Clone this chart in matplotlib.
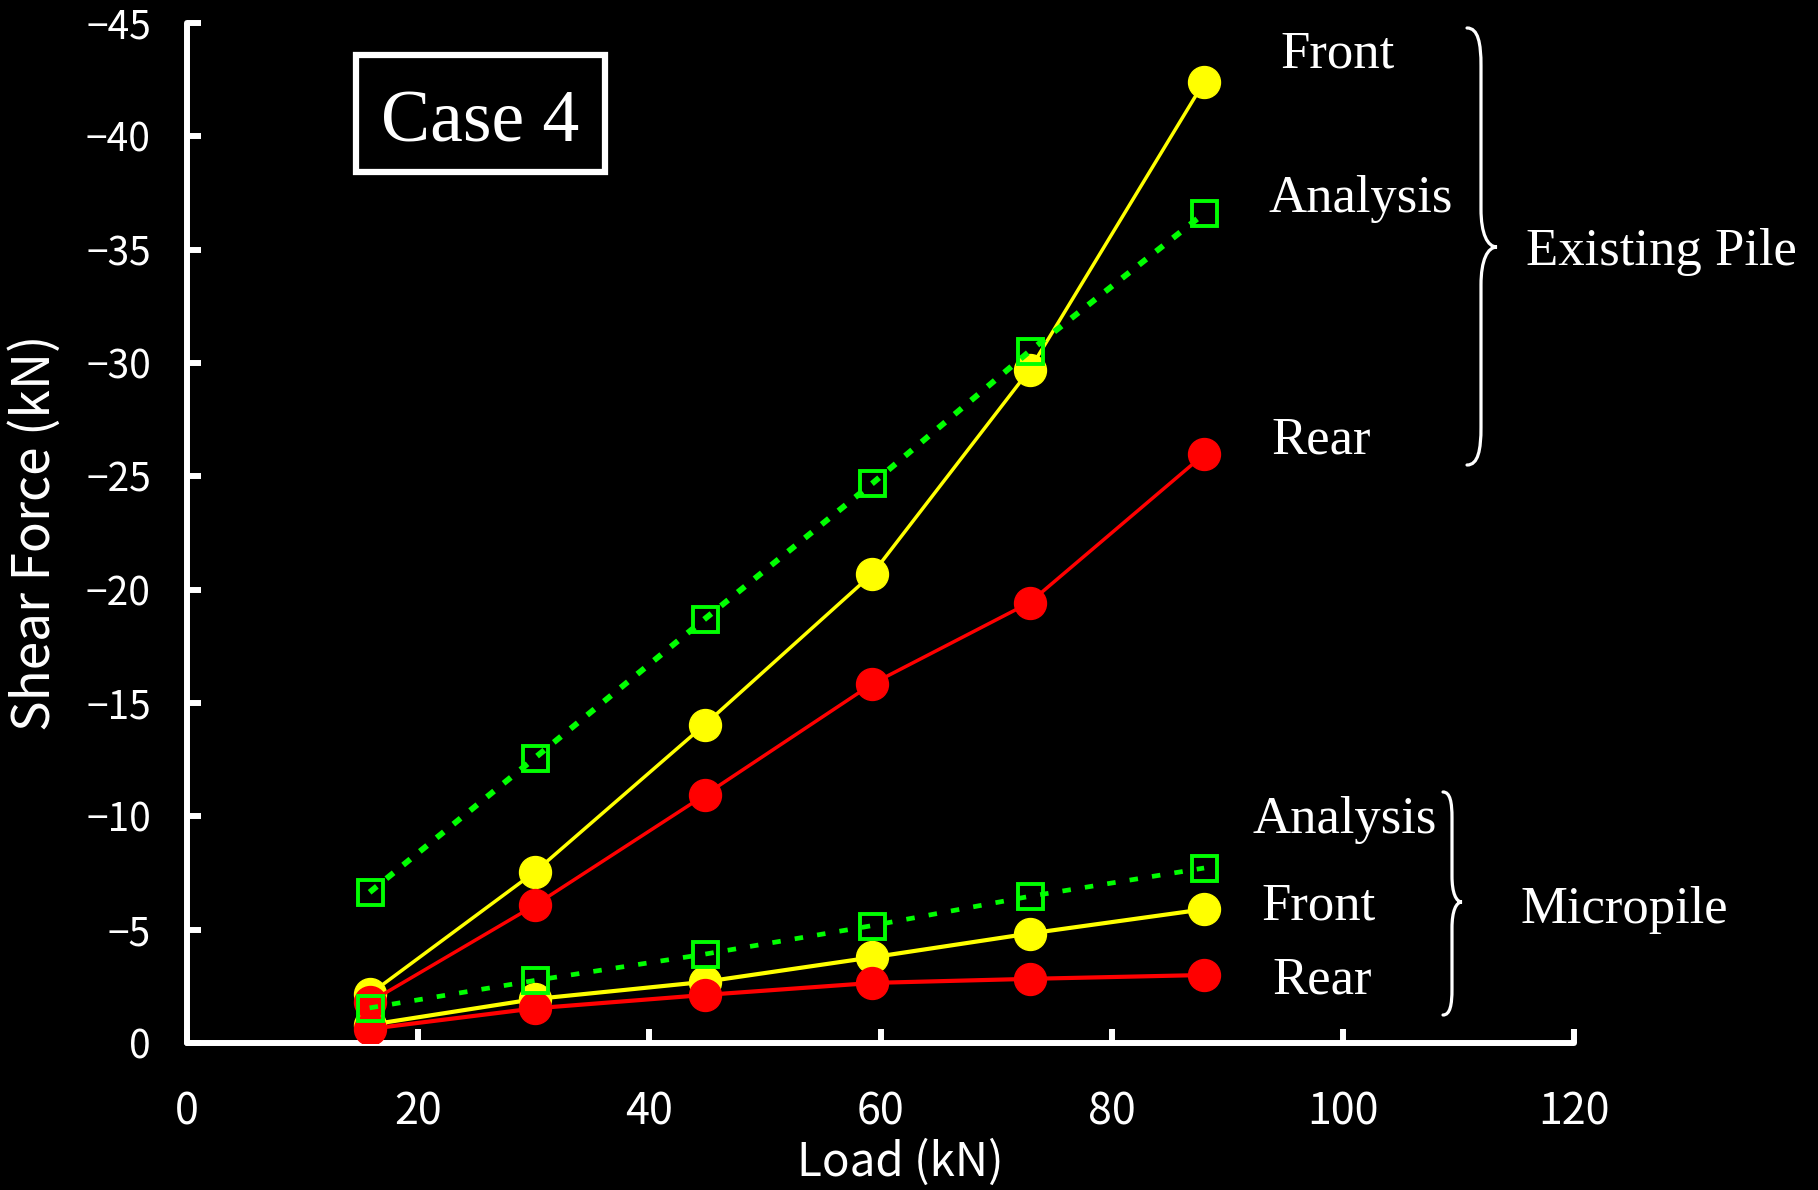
import matplotlib
matplotlib.use("Agg")
import matplotlib.pyplot as plt
from matplotlib.path import Path
from matplotlib.patches import PathPatch, Rectangle

# ---------------- data ----------------
load = [15.8, 30.1, 44.8, 59.3, 72.9, 88.0]

exist_front = [-2.15, -7.55, -14.05, -20.7, -29.7, -42.4]
exist_rear = [-1.8, -6.08, -10.94, -15.85, -19.43, -25.97]
exist_analysis = [-6.65, -12.58, -18.71, -24.69, -30.52, -36.6]

micro_front = [-0.8, -1.94, -2.7, -3.78, -4.83, -5.9]
micro_rear = [-0.62, -1.53, -2.12, -2.65, -2.83, -3.0]
micro_analysis = [-1.55, -2.76, -3.92, -5.18, -6.47, -7.72]

x_ticks = [0, 20, 40, 60, 80, 100, 120]
y_ticks = [0, -5, -10, -15, -20, -25, -30, -35, -40, -45]

# ---------------- figure ----------------
W, H = 1818, 1190
DPI = 100
fig = plt.figure(figsize=(W / DPI, H / DPI), dpi=DPI, facecolor="black")


def fx(px):
    return px / W


def fy(py):
    return 1 - py / H


ax = fig.add_axes([fx(187), fy(1043), fx(1574) - fx(187), fy(23) - fy(1043)])
ax.set_facecolor("black")

YEL = "#FFFF00"
RED = "#FF0000"
GRN = "#00FF00"

ax.plot(load, exist_front, color=YEL, lw=2.5, marker="o", ms=23, mec=YEL, mfc=YEL, zorder=3)
ax.plot(load, exist_rear, color=RED, lw=2.5, marker="o", ms=23, mec=RED, mfc=RED, zorder=4)
ax.plot(load, micro_front, color=YEL, lw=3.0, marker="o", ms=23, mec=YEL, mfc=YEL, zorder=3)
ax.plot(load, micro_rear, color=RED, lw=3.0, marker="o", ms=23, mec=RED, mfc=RED, zorder=4)
ax.plot(load, exist_analysis, color=GRN, lw=4.2, ls=(0, (1.6, 2.1)), marker="s", ms=18,
        mec=GRN, mfc="none", mew=2.8, zorder=5)
ax.plot(load, micro_analysis, color=GRN, lw=3.4, ls=(0, (1.8, 3.0)), marker="s", ms=18,
        mec=GRN, mfc="none", mew=2.8, zorder=5)

ax.set_xlim(0, 120)
ax.set_ylim(0, -45)
ax.set_xticks(x_ticks)
ax.set_yticks(y_ticks)

for s in ["top", "right"]:
    ax.spines[s].set_visible(False)
for s in ["left", "bottom"]:
    ax.spines[s].set_color("white")
    ax.spines[s].set_linewidth(4.3)
    ax.spines[s].set_capstyle("round")

sans = ["Noto Sans CJK JP", "DejaVu Sans"]
ax.tick_params(axis="both", direction="in", length=10, width=4.3, colors="white")
ax.tick_params(axis="x", pad=34, labelsize=31)
ax.tick_params(axis="y", pad=26, labelsize=28)
for lab in ax.get_xticklabels() + ax.get_yticklabels():
    lab.set_family(sans)

ax.set_xlabel("Load (kN)", color="white", fontsize=33, family=sans, va="center")
ax.xaxis.set_label_coords((900 - 187) / 1387, (1043 - 1163) / 1020)
ax.set_ylabel("Shear Force (kN)", color="white", fontsize=37, family=sans, va="center")
ax.yaxis.set_label_coords((35 - 187) / 1387, 0.5)

# ---------------- annotations ----------------
serif = "Liberation Serif"
fig.patches.append(Rectangle((fx(356), fy(172)), fx(605) - fx(356), fy(55) - fy(172),
                             transform=fig.transFigure, facecolor="black",
                             edgecolor="white", lw=4.5, zorder=6))
fig.text(fx(480), fy(142), "Case 4", family=serif, fontsize=53, color="white",
         ha="center", va="baseline", zorder=7)

labels = [
    ("Front", 1338, 68),
    ("Analysis", 1361, 212),
    ("Rear", 1321, 454),
    ("Existing Pile", 1661, 265),
    ("Analysis", 1345, 833),
    ("Front", 1319, 920),
    ("Rear", 1322, 994),
    ("Micropile", 1624, 923),
]
for txt, x, y in labels:
    fig.text(fx(x), fy(y), txt, family=serif, fontsize=38, color="white",
             ha="center", va="baseline")


def brace(xe, xv, xt, yt, ym, yb, r):
    pts = [
        (xe, yt),
        (xv - 0.2 * (xv - xe), yt), (xv, yt + 0.4 * r), (xv, yt + r),
        (xv, ym - r),
        (xv, ym - 0.35 * r), (xv + 0.4 * (xt - xv), ym), (xt, ym),
        (xv + 0.4 * (xt - xv), ym), (xv, ym + 0.35 * r), (xv, ym + r),
        (xv, yb - r),
        (xv, yb - 0.4 * r), (xv - 0.2 * (xv - xe), yb), (xe, yb),
    ]
    codes = [Path.MOVETO,
             Path.CURVE4, Path.CURVE4, Path.CURVE4,
             Path.LINETO,
             Path.CURVE4, Path.CURVE4, Path.CURVE4,
             Path.CURVE4, Path.CURVE4, Path.CURVE4,
             Path.LINETO,
             Path.CURVE4, Path.CURVE4, Path.CURVE4]
    verts = [(fx(a), fy(b)) for a, b in pts]
    fig.patches.append(PathPatch(Path(verts, codes), transform=fig.transFigure,
                                 facecolor="none", edgecolor="white", lw=2.3,
                                 capstyle="round"))


brace(1467, 1481, 1497, 28, 247, 465, 38)
brace(1443, 1452, 1462, 792, 902, 1015, 26)

fig.savefig("out.png", dpi=DPI, facecolor="black")
